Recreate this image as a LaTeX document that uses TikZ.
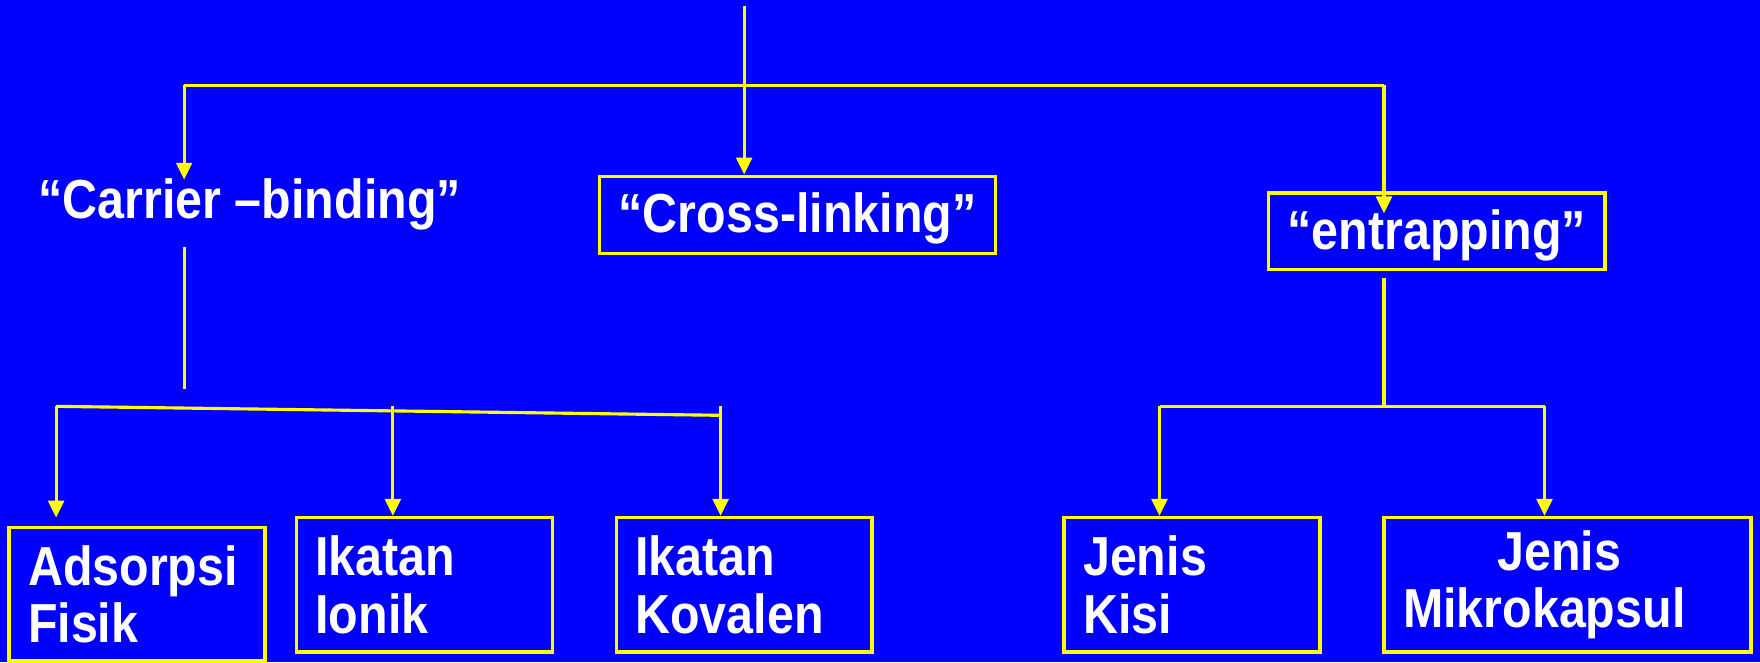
\documentclass[tikz,border=0pt]{standalone}
\usepackage{fontspec}
\setmainfont{Liberation Sans}[FakeStretch=0.88]
\usetikzlibrary{arrows.meta}
\definecolor{slideblue}{RGB}{0,0,255}
\definecolor{lineyellow}{RGB}{255,255,0}
\begin{document}
\begin{tikzpicture}[x=1pt,y=-1pt,
  link/.style={draw=lineyellow,line width=2.8pt},
  arrowlink/.style={link,-{Triangle[width=14pt,length=15pt]}},
  bigtext/.style={text=white,font=\bfseries\fontsize{49}{51}\selectfont},
  box/.style={bigtext,draw=lineyellow,line width=3pt,inner xsep=17pt,inner ysep=0pt,align=left},
  plaintext/.style={bigtext,inner sep=0pt}
]
% slide background
\fill[slideblue] (0,0) rectangle (1568,590);
\useasboundingbox (0,0) rectangle (1568,590);

% first level
\node[plaintext,anchor=base] (carrier) at (222.5,195) {“Carrier –binding”};
\node[box,align=center,text height=40pt,text depth=8pt,minimum width=351pt,minimum height=69pt]
  (cross) at (710.5,191.5) {“Cross-linking”};
\node[box,align=center,text height=40pt,text depth=8pt,minimum width=298pt,minimum height=68pt]
  (entrap) at (1280,206) {“entrapping”};

% second level
\node[box,text width=194pt,minimum height=119pt] (adsorp) at (122,529.5) {Adsorpsi\\Fisik};
\node[box,text width=194pt,minimum height=120pt] (ionik) at (378,521) {Ikatan\\Ionik};
\node[box,text width=194pt,minimum height=120pt] (kovalen) at (663,521) {Ikatan\\Kovalen};
\node[box,text width=194pt,minimum height=120pt] (kisi) at (1062,521) {Jenis\\Kisi};
\node[box,text width=293pt,minimum height=120pt] (mikro) at (1396.5,521) {\hspace*{84pt}Jenis\\Mikrokapsul};

% junction points
\coordinate (src) at (663,5);
\coordinate (busL) at (164,76);
\coordinate (busR) at (1233,76);
\coordinate (carrierIn) at (164,160);
\coordinate (entrapIn) at (1233,190);
\coordinate (carrierOutTop) at (164,220);
\coordinate (carrierOutBot) at (164,347);
\coordinate (slantL) at (50,362);
\coordinate (slantR) at (642,370);
\coordinate (adsIn) at (50,461);
\coordinate (tickI) at (350,362);
\coordinate (tickK) at (642,362);
\coordinate (entrapOut) at (1233,248);
\coordinate (forkE) at (1233,362);
\coordinate (forkL) at (1033,362);
\coordinate (forkR) at (1376,362);

% top distribution
\draw[arrowlink] (src) -- (src |- cross.north);
\draw[link] (busL) -- (busR);
\draw[arrowlink] (busL) -- (carrierIn);
\draw[arrowlink] (busR) -- (entrapIn);

% carrier binding branch
\draw[link] (carrierOutTop) -- (carrierOutBot);
\draw[link] (slantL) -- (slantR);
\draw[arrowlink] (slantL) -- (adsIn);
\draw[arrowlink] (tickI) -- (tickI |- ionik.north);
\draw[arrowlink] (tickK) -- (tickK |- kovalen.north);

% entrapping branch
\draw[link] (entrapOut) -- (forkE);
\draw[link] (forkL) -- (forkR);
\draw[arrowlink] (forkL) -- (forkL |- kisi.north);
\draw[arrowlink] (forkR) -- (forkR |- mikro.north);
\end{tikzpicture}
\end{document}
